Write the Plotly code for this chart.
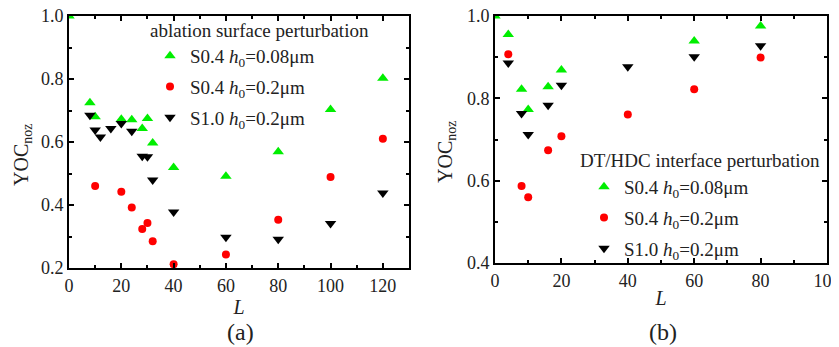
import plotly.graph_objects as go

# ---- data: panel (a) ablation surface perturbation ----
a_g_L = [0, 8, 10, 20, 24, 28, 30, 32, 40, 60, 80, 100, 120]
a_g_Y = [1.0, 0.725, 0.68, 0.672, 0.671, 0.643, 0.675, 0.597, 0.519, 0.491, 0.569, 0.703, 0.802]
a_r_L = [10, 20, 24, 28, 30, 32, 40, 60, 80, 100, 120]
a_r_Y = [0.460, 0.442, 0.392, 0.324, 0.343, 0.285, 0.212, 0.243, 0.353, 0.489, 0.610]
a_k_L = [8, 10, 12, 16, 20, 24, 28, 30, 32, 40, 60, 80, 100, 120]
a_k_Y = [0.685, 0.638, 0.616, 0.643, 0.659, 0.634, 0.555, 0.553, 0.479, 0.378, 0.298, 0.291, 0.341, 0.438]

# ---- data: panel (b) DT/HDC interface perturbation ----
b_g_L = [0, 4, 8, 10, 16, 20, 60, 80]
b_g_Y = [1.0, 0.955, 0.822, 0.773, 0.828, 0.869, 0.939, 0.976]
b_r_L = [4, 8, 10, 16, 20, 40, 60, 80]
b_r_Y = [0.907, 0.587, 0.560, 0.674, 0.708, 0.761, 0.822, 0.899]
b_k_L = [4, 8, 10, 16, 20, 40, 60, 80]
b_k_Y = [0.886, 0.763, 0.712, 0.783, 0.832, 0.877, 0.901, 0.928]

names = ["S0.4 <i>h</i><sub>0</sub>=0.08μm", "S0.4 <i>h</i><sub>0</sub>=0.2μm", "S1.0 <i>h</i><sub>0</sub>=0.2μm"]
colors = ["#00ee00", "#ff0000", "#000000"]
symbols = ["triangle-up", "circle", "triangle-down"]
sizes = [10, 8, 10]

FONT = "Liberation Serif"
OFF = 8  # page body margin
W, H = 839 - OFF, 347 - OFF

fig = go.Figure()
panelA = [(a_g_L, a_g_Y), (a_r_L, a_r_Y), (a_k_L, a_k_Y)]
panelB = [(b_g_L, b_g_Y), (b_r_L, b_r_Y), (b_k_L, b_k_Y)]
for i, (xs, ys) in enumerate(panelA):
    fig.add_trace(go.Scatter(x=xs, y=ys, mode="markers", name=names[i],
                             marker=dict(symbol=symbols[i], color=colors[i], size=sizes[i]),
                             xaxis="x", yaxis="y", legend="legend", legendgroup="a%d" % i))
for i, (xs, ys) in enumerate(panelB):
    fig.add_trace(go.Scatter(x=xs, y=ys, mode="markers", name=names[i],
                             marker=dict(symbol=symbols[i], color=colors[i], size=sizes[i]),
                             xaxis="x2", yaxis="y2", legend="legend2", legendgroup="b%d" % i))

def px(v):
    return (v - OFF) / W

def py(v):
    return (H - (v - OFF)) / H

axis_common = dict(showline=True, linewidth=2, linecolor="black", mirror="allticks",
                   ticks="inside", ticklen=5, tickwidth=1.5, tickcolor="black",
                   showgrid=False, zeroline=False, automargin=False,
                   ticklabeloverflow="allow",
                   tickfont=dict(family=FONT, size=18, color="#222"))

def ann(text, x, y, size, angle=0):
    return dict(text=text, x=px(x), y=py(y), xref="paper", yref="paper",
                showarrow=False, xanchor="center", yanchor="middle", textangle=angle,
                font=dict(family=FONT, size=size, color="#222"))

fig.update_layout(
    width=W, height=H, margin=dict(l=0, r=0, t=0, b=0),
    paper_bgcolor="white", plot_bgcolor="white",
    font=dict(family=FONT, size=18, color="#222"),
    showlegend=True,
    xaxis=dict(domain=[px(69), px(409)], range=[0, 130], dtick=20, tick0=0,
               minor=dict(ticks="inside", dtick=10, ticklen=3, tickcolor="black"),
               title=dict(text="<i>L</i>", font=dict(family=FONT, size=20), standoff=1),
               anchor="y", **axis_common),
    yaxis=dict(domain=[py(268), py(16)], range=[0.2, 1.0], dtick=0.2, tick0=0.2,
               tickformat=".1f",
               minor=dict(ticks="inside", dtick=0.1, ticklen=3, tickcolor="black"),
               anchor="x", **axis_common),
    xaxis2=dict(domain=[px(495), px(827)], range=[0, 100], dtick=20, tick0=0,
                minor=dict(ticks="inside", dtick=10, ticklen=3, tickcolor="black"),
                title=dict(text="<i>L</i>", font=dict(family=FONT, size=20), standoff=1),
                anchor="y2", **axis_common),
    yaxis2=dict(domain=[py(263), py(16)], range=[0.4, 1.0], dtick=0.2, tick0=0.4,
                tickformat=".1f",
                minor=dict(ticks="inside", dtick=0.1, ticklen=3, tickcolor="black"),
                anchor="x2", **axis_common),
    legend=dict(x=px(150), y=py(37), xanchor="left", yanchor="top",
                bgcolor="rgba(0,0,0,0)", traceorder="grouped", tracegroupgap=3,
                font=dict(family=FONT, size=19, color="#222")),
    legend2=dict(x=px(584), y=py(168), xanchor="left", yanchor="top",
                 bgcolor="rgba(0,0,0,0)", traceorder="grouped", tracegroupgap=3,
                 font=dict(family=FONT, size=19, color="#222")),
    annotations=[
        ann("ablation surface perturbation", 259, 30, 19),
        ann("DT/HDC interface perturbation", 700, 160, 19),
        ann("(a)", 240, 332, 24),
        ann("(b)", 663, 332, 24),
        ann("YOC<sub>noz</sub>", 22, 155, 20, -90),
        ann("YOC<sub>noz</sub>", 446, 152, 20, -90),
    ],
)

fig.write_html("out.html")
